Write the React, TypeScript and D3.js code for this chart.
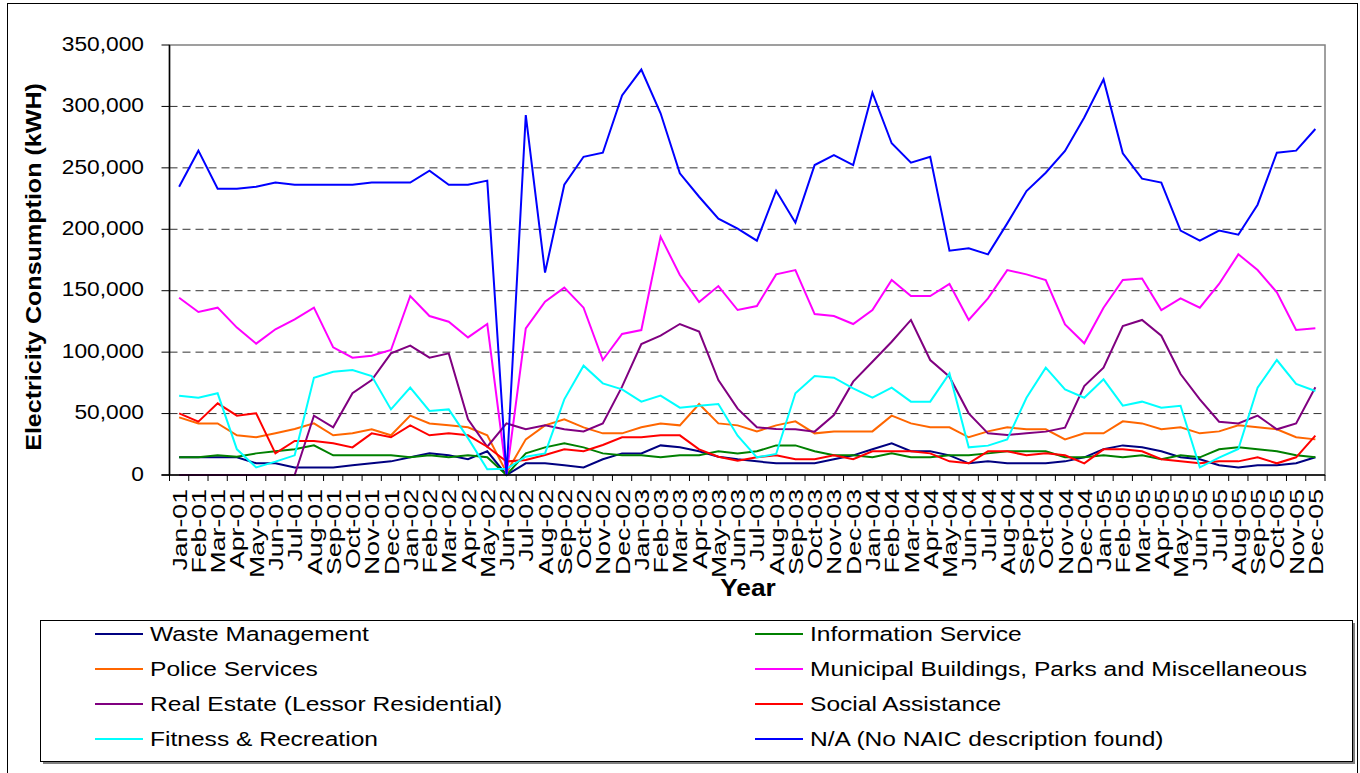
import React from "react";
import * as d3 from "d3";

const MONTHS = ["Jan", "Feb", "Mar", "Apr", "May", "Jun", "Jul", "Aug", "Sep", "Oct", "Nov", "Dec"];
const YEARS = ["01", "02", "03", "04", "05"];
const CATEGORIES = YEARS.flatMap((y) => MONTHS.map((m) => `${m}-${y}`));
const Y_TICKS = [0, 50000, 100000, 150000, 200000, 250000, 300000, 350000];

const wasteManagement = [14400,14400,14400,14400,9500,9500,6200,6200,6200,7900,9500,11100,14400,17600,16000, 12800,19300,0,9500,9500,7900,6200,12800,17600,17600,24100,22500,19300,14900,12800, 11100,9500,9500,9500,12800,16000,20900,25800,19300,19300,16000,9500,11100,9500,9500, 9500,11100,14400,20900,24100,22500,19300,14400,12800,7900,6200,7900,7900,9500,14400];
const informationService = [14400,14400,16000,14900,17600,19300,20900,24100,16000,16000,16000,16000,14400,16000,14400, 16000,14400,0,17600,22500,25800,22500,17600,16000,16000,14400,16000,16000,19300,17600, 19300,24100,24100,19300,16000,16000,14400,17600,14400,14400,16000,16000,17600,19300,19300, 19300,14400,14400,16000,14400,16000,12800,16000,14400,20900,22500,20900,19300,16000,14400];
const policeServices = [46900,42000,42000,32300,30700,33900,37400,42000,32300,33900,37200,32300,48300,42000,40400, 38800,32300,2000,29000,40400,45300,38800,33900,33900,38800,42000,40400,57800,42000,40400, 35500,40400,43700,33900,35500,35500,35500,48300,42000,38800,38800,30700,35500,38800,37200, 37200,29000,33900,33900,43700,42000,37200,38800,33900,35500,40400,38800,37200,30700,29000];
const municipalBuildings = [144300,132700,136200,120000,106900,118600,126700,136200,103900,95500,97100,101700,145700,129400,124800, 112000,122900,0,119400,141000,152500,136200,93600,114800,118000,194000,162800,140800,153800,134300, 137500,163300,166800,131000,129400,122900,134300,158700,145700,145700,155500,126200,143800,166800,163300, 158700,122600,107200,136200,158700,160000,134300,143800,136200,155500,179600,166800,148700,118000,119400];
const realEstate = [0,0,0,0,0,0,0,48300,38800,66500,77300,99000,105300,95500,99000, 45300,23000,42000,37200,40400,37200,35500,42000,71900,106600,113400,122900,116700,77300,54000, 38800,37400,37200,35300,48800,76000,92200,108500,126200,93600,80000,50200,33900,32600,33900, 35300,38500,72400,87400,121300,126200,113400,82200,61600,43400,42000,48300,37200,42000,71400];
const socialAssistance = [50200,43400,58300,48300,50200,17600,27700,27700,25800,22500,33900,30700,40400,32300,33900, 32300,23000,11000,12200,16300,20900,19300,24400,30700,30700,32300,32300,20900,14900,11700, 14400,16000,12800,12800,16000,12800,19300,19300,19300,17600,11100,9500,19300,19300,16000, 17600,16000,9500,20900,20900,19300,12800,11100,9500,11100,11100,14400,9500,14400,32000];
const fitnessRecreation = [64600,62900,66500,20900,6200,10900,16000,79200,84100,85500,80600,53400,71100,52100,53400, 30000,4600,5000,14900,17600,61600,89000,74600,69700,59700,64600,54800,56400,57800,32000, 14400,17100,66500,80600,79200,70500,62900,71100,59700,59700,82700,22500,23900,29000,62900, 87400,69700,62900,77900,56400,59700,54800,56400,6200,14100,21200,71100,93600,74100,68400];
const noDescription = [234700,264000,233000,233000,234700,238000,236300,236300,236300,236300,238000,238000,238000,247700,236300, 236300,239600,0,293000,164700,236300,259000,262300,309000,330000,294400,245500,226500,208600,200500, 190700,231400,205400,252300,260400,252300,311200,270000,254200,259000,182600,184500,179600,204800,231100, 246000,263700,291000,322000,261800,241200,238000,198900,190700,198900,195600,220000,262300,264000,281600];

const SERIES_NAMES = [
  "Waste Management",
  "Information Service",
  "Police Services",
  "Municipal Buildings, Parks and Miscellaneous",
  "Real Estate (Lessor Residential)",
  "Social Assistance",
  "Fitness & Recreation",
  "N/A (No NAIC description found)",
];
const SERIES_VALUES = [
  wasteManagement,
  informationService,
  policeServices,
  municipalBuildings,
  realEstate,
  socialAssistance,
  fitnessRecreation,
  noDescription,
];
const SERIES_COLORS = ["#000080", "#008000", "#FF6600", "#FF00FF", "#800080", "#FF0000", "#00FFFF", "#0000FF"];

const FONT = "Arial, 'Liberation Sans', sans-serif";

function SText(props: {
  x: number; y: number; rotate?: number; sx: number; size: number; anchor?: string;
  weight?: string; dy?: string; children: React.ReactNode;
}) {
  const { x, y, rotate = 0, sx, size, anchor = "start", weight = "normal", dy = "0", children } = props;
  return (
    <text
      transform={`translate(${x},${y}) rotate(${rotate}) scale(${sx},1)`}
      fontFamily={FONT}
      fontSize={size}
      fontWeight={weight}
      textAnchor={anchor}
      dy={dy}
      fill="#000"
    >
      {children}
    </text>
  );
}

export default function App() {
  const left = 169.5, right = 1325, top = 45, bottom = 475;
  const x = d3.scaleBand<string>().domain(CATEGORIES).range([left, right]).paddingInner(0).paddingOuter(0);
  const y = d3.scaleLinear().domain([0, 350000]).range([bottom, top]);
  const bw = x.bandwidth();
  const cx = (c: string) => (x(c) as number) + bw / 2;
  const fmt = d3.format(",");
  const line = d3
    .line<number>()
    .x((_, i) => cx(CATEGORIES[i]))
    .y((v) => y(v));

  const legendRows = [0, 1, 2, 3];
  const legendCols = [
    { lx1: 95, lx2: 143, tx: 150 },
    { lx1: 755, lx2: 803, tx: 810 },
  ];

  return (
    <svg
      width={1360}
      height={773}
      style={{ position: "absolute", left: 0, top: 0, background: "#fff" }}
    >
      <rect x={0} y={0} width={1360} height={773} fill="#fff" />
      {/* outer frame */}
      <rect x={7.5} y={3.5} width={1350} height={800} fill="none" stroke="#000" strokeWidth={1} />

      {/* plot area border */}
      <rect x={left} y={top} width={right - left} height={bottom - top} fill="#fff" stroke="#808080" strokeWidth={1.5} />

      {/* gridlines */}
      {Y_TICKS.filter((t) => t > 0 && t < 350000).map((t) => (
        <line key={t} x1={left} x2={right} y1={y(t)} y2={y(t)} stroke="#333" strokeWidth={1} strokeDasharray="8,5" />
      ))}

      {/* series */}
      {SERIES_VALUES.map((vals, si) => (
        <path key={si} d={line(vals) || ""} fill="none" stroke={SERIES_COLORS[si]} strokeWidth={2} strokeLinejoin="miter" />
      ))}

      {/* axes */}
      <line x1={left} x2={left} y1={top} y2={bottom} stroke="#000" strokeWidth={1.5} />
      <line x1={left - 8} x2={right} y1={bottom} y2={bottom} stroke="#000" strokeWidth={1.5} />
      {Y_TICKS.map((t) => (
        <g key={t}>
          <line x1={left - 8} x2={left} y1={y(t)} y2={y(t)} stroke="#000" strokeWidth={1} />
          <SText x={144} y={y(t) + 5.7} sx={1.11} size={20.5} anchor="end">
            {fmt(t)}
          </SText>
        </g>
      ))}
      {CATEGORIES.map((c) => (
        <line key={"t" + c} x1={x(c) as number} x2={x(c) as number} y1={bottom} y2={bottom + 6} stroke="#000" strokeWidth={1} />
      ))}
      <line x1={right} x2={right} y1={bottom} y2={bottom + 6} stroke="#000" strokeWidth={1} />
      {CATEGORIES.map((c) => (
        <SText key={"l" + c} x={cx(c)} y={489} rotate={-90} sx={1.27} size={21} anchor="end" dy="0.36em">
          {c}
        </SText>
      ))}

      {/* axis titles */}
      <SText x={41} y={267} rotate={-90} sx={1.14} size={22} anchor="middle" weight="bold">
        Electricity Consumption (kWH)
      </SText>
      <SText x={748} y={596} sx={1.12} size={23.5} anchor="middle" weight="bold">
        Year
      </SText>

      {/* legend */}
      <rect x={43} y={623} width={1312} height={141} fill="#808080" />
      <rect x={40.5} y={620.5} width={1312} height={141} fill="#fff" stroke="#000" strokeWidth={1} />
      {legendRows.map((r) =>
        legendCols.map((col, ci) => {
          const si = r * 2 + ci;
          const ly = 634 + r * 35;
          return (
            <g key={si}>
              <line x1={col.lx1} x2={col.lx2} y1={ly} y2={ly} stroke={SERIES_COLORS[si]} strokeWidth={2} />
              <SText x={col.tx} y={ly + 6.5} sx={1.26} size={19.5}>
                {SERIES_NAMES[si]}
              </SText>
            </g>
          );
        })
      )}
    </svg>
  );
}
